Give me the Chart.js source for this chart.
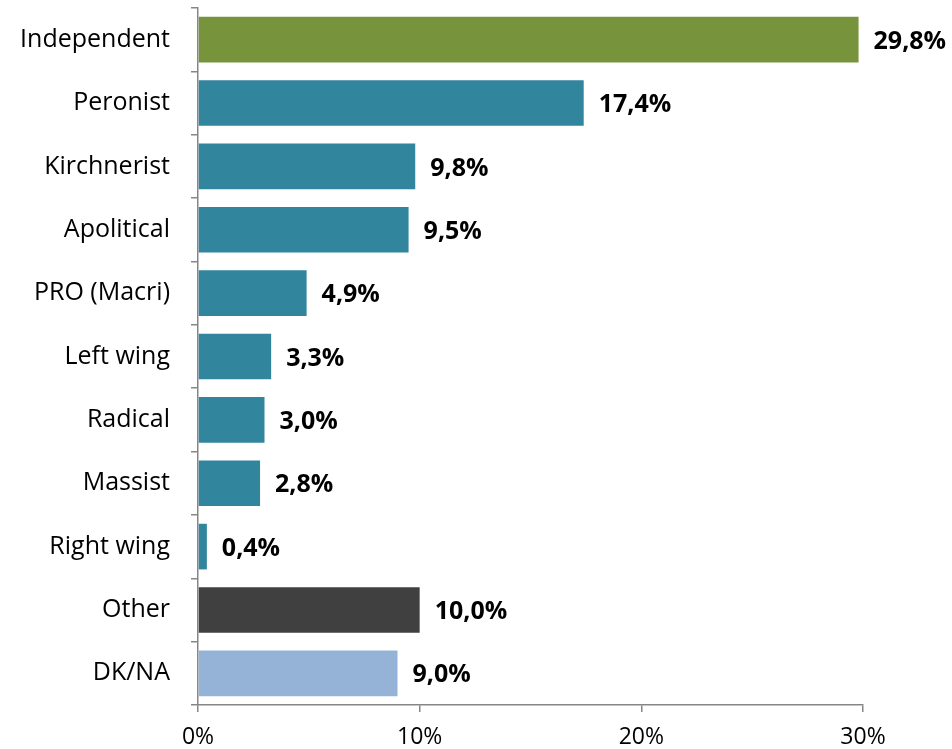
<!DOCTYPE html>
<html>
<head>
<meta charset="utf-8">
<script src="https://cdn.jsdelivr.net/npm/chart.js@4"></script>
<style>
  html, body { margin: 0; padding: 0; background: #fff; }
  #wrap { width: 952px; height: 749px; }
</style>
</head>
<body>
<div id="wrap"><canvas id="prefChart"></canvas></div>
<script>
const categories = ['Independent', 'Peronist', 'Kirchnerist', 'Apolitical', 'PRO (Macri)',
    'Left wing', 'Radical', 'Massist', 'Right wing', 'Other', 'DK/NA'];
const shares = [29.8, 17.4, 9.8, 9.5, 4.9, 3.3, 3.0, 2.8, 0.4, 10.0, 9.0];
const barColors = ['#77933C', '#31859C', '#31859C', '#31859C', '#31859C', '#31859C',
    '#31859C', '#31859C', '#31859C', '#404040', '#95B3D7'];
const xTicks = [0, 10, 20, 30];

const axisGrey = '#868686';
const font = '"Open Sans", sans-serif';

// value labels to the right of each bar, comma decimal
const valueLabels = {
    id: 'valueLabels',
    afterDatasetsDraw(chart) {
        const ctx = chart.ctx;
        const meta = chart.getDatasetMeta(0);
        ctx.save();
        ctx.font = 'bold 25px ' + font;
        ctx.fillStyle = '#000';
        ctx.textAlign = 'left';
        ctx.textBaseline = 'middle';
        meta.data.forEach(function(bar, i) {
            const txt = shares[i].toFixed(1).replace('.', ',') + '%';
            ctx.fillText(txt, bar.x + 15, bar.y + 2);
        });
        ctx.restore();
    }
};

document.addEventListener('DOMContentLoaded', function() {
    const ctx = document.getElementById('prefChart').getContext('2d');
    new Chart(ctx, {
        type: 'bar',
        data: {
            labels: categories,
            datasets: [{
                data: shares,
                backgroundColor: barColors,
                categoryPercentage: 1,
                barPercentage: 0.72
            }]
        },
        options: {
            indexAxis: 'y',
            responsive: true,
            maintainAspectRatio: false,
            animation: false,
            layout: { padding: { top: 8, right: 89, left: 0, bottom: 0 } },
            plugins: {
                legend: { display: false },
                tooltip: { enabled: false }
            },
            scales: {
                x: {
                    min: 0,
                    max: 30,
                    afterBuildTicks: function(scale) {
                        scale.ticks = xTicks.map(v => ({ value: v }));
                    },
                    afterFit: function(scale) { scale.height = 44; },
                    border: { color: axisGrey, width: 1.5 },
                    grid: { drawOnChartArea: false, drawTicks: true, tickLength: 7, color: axisGrey, lineWidth: 1.5 },
                    ticks: {
                        padding: 12,
                        color: '#000',
                        font: { family: font, size: 23 },
                        callback: v => v + '%'
                    }
                },
                y: {
                    afterFit: function(scale) {
                        scale.width = 198;
                        scale.paddingTop = 0;
                        scale.paddingBottom = 0;
                    },
                    border: { color: axisGrey, width: 1.5 },
                    grid: { drawOnChartArea: false, drawTicks: true, tickLength: 7, color: axisGrey, lineWidth: 1.5, offset: true },
                    ticks: {
                        padding: 21,
                        color: '#000',
                        font: { family: font, size: 25 }
                    }
                }
            }
        },
        plugins: [valueLabels]
    });
});
</script>
</body>
</html>
